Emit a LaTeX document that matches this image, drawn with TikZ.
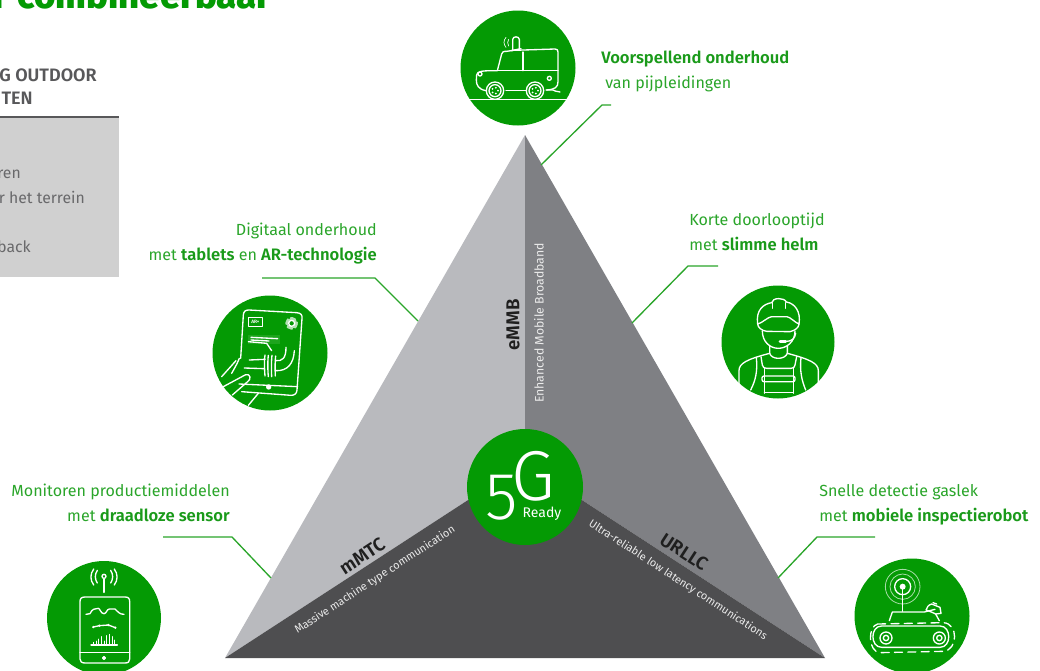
\documentclass[tikz,border=0pt]{standalone}
\usepackage{fontspec}
\setmainfont{Fira Sans}[BoldFont={Fira Sans SemiBold}]
\newfontfamily\fivefont{Fira Sans Light}
\newfontfamily\titlefont{Fira Sans ExtraBold}
\definecolor{grn}{HTML}{049A04}
\definecolor{txtgrn}{HTML}{2AA52A}
\definecolor{boldgrn}{HTML}{1A9A1A}
\definecolor{tl}{HTML}{B9BABE}
\definecolor{tr}{HTML}{7F8084}
\definecolor{tb}{HTML}{4E4E50}
\definecolor{boxg}{HTML}{D0D0D0}
\definecolor{hd}{HTML}{58585A}
\tikzset{
 x=0.75pt,y=-0.75pt,
 lbl/.style={text=txtgrn,font=\fontsize{12.05pt}{18.5pt}\selectfont,inner sep=0pt,align=left},
 lblr/.style={lbl,align=right},
 leader/.style={draw=txtgrn,line width=1pt},
 disc/.style={circle,fill=grn,minimum size=#1*0.75pt,inner sep=0pt},
 ic/.style={draw=white,line width=1pt,line cap=round,line join=round},
 ict/.style={draw=white,line width=0.6pt,opacity=.65},
 tri/.style={font=\fontsize{8.2pt}{10pt}\selectfont,text=white!92!black,inner sep=0pt},
 trb/.style={font=\fontsize{14pt}{16pt}\bfseries\selectfont,text=black!88,inner sep=0pt},
 hdt/.style={anchor=base east,inner sep=0pt,text=hd,font=\fontsize{13.5pt}{15pt}\bfseries\selectfont},
 bdt/.style={anchor=base east,inner sep=0pt,text=hd!90,font=\fontsize{11.8pt}{14pt}\selectfont},
}
\newcommand{\bg}[1]{{\fontsize{12.45pt}{18.5pt}\selectfont\textcolor{boldgrn}{\textbf{#1}}}}
\begin{document}
\begin{tikzpicture}
\useasboundingbox (0,0) rectangle (1040,671);
\clip (0,0) rectangle (1040,671);
% title
\node[anchor=base east,inner sep=0pt,text=grn,font=\fontsize{27.5pt}{30pt}\titlefont] (title) at (272,8) {r combineerbaar};
% grey box
\fill[boxg] (-2,118) rectangle (119,277);
\draw[hd,line width=1.2pt] (-2,117) -- (119,117);
\node[hdt] (h1) at (97,81) {G OUTDOOR};
\node[hdt] (h2) at (33,104) {TEN};
\node[bdt] (b1) at (21,178) {ren};
\node[bdt] (b2) at (85,203) {r het terrein};
\node[bdt] (b3) at (31,252) {back};
% triangle
\coordinate (A) at (525,135);
\coordinate (L) at (225,658);
\coordinate (R) at (825,658);
\coordinate (C) at (525,463);
\fill[tl] (A) -- (L) -- (C) -- cycle;
\fill[tr] (A) -- (R) -- (C) -- cycle;
\fill[tb] (L) -- (C) -- (R) -- cycle;
% triangle labels
\node[trb,rotate=90] (embb) at (513,325) {eMMB};
\node[tri,rotate=90,font=\fontsize{9.2pt}{10pt}\selectfont] (embbt) at (539,323) {Enhanced Mobile Broadband};
\node[trb,rotate=33] (mmtc) at (362,556) {mMTC};
\node[tri,rotate=33] (mmtct) at (375,580) {Massive machine type communication};
\node[trb,rotate=-33] (urllc) at (684,552) {URLLC};
\node[tri,rotate=-33] (urllct) at (678,580) {Ultra-reliable low latency communications};
% centre
\node[disc=116] (five) at (525,487) {};
\node[text=white,inner sep=0pt,font=\fontsize{50pt}{50pt}\fivefont] (n5) at (502,498) {5};
\node[text=white,inner sep=0pt,font=\fontsize{53pt}{53pt}\fivefont] (nG) at (533,476) {G};
\node[text=white,inner sep=0pt,font=\fontsize{10.5pt}{12pt}\selectfont] (rdy) at (542,514) {Ready};
% discs
\node[disc=115] (d1) at (518,68) {};
\node[disc=115] (d2) at (270,353) {};
\node[disc=113] (d3) at (778,342) {};
\node[disc=114] (d4) at (104,618) {};
\node[disc=115] (d5) at (912,616) {};
% labels
\node[lbl,anchor=base west] (t1a) at (601,63) {\bg{Voorspellend onderhoud}};
\node[lbl,anchor=base west] (t1b) at (605,88) {van pijpleidingen};
\node[lblr,anchor=base east] (t2a) at (377,235) {Digitaal onderhoud};
\node[lblr,anchor=base east] (t2b) at (377,260) {met \bg{tablets} en \bg{AR-technologie}};
\node[lbl,anchor=base west] (t3a) at (689,225) {Korte doorlooptijd};
\node[lbl,anchor=base west] (t3b) at (689,250) {met \bg{slimme helm}};
\node[lblr,anchor=base east] (t4a) at (230,496) {Monitoren productiemiddelen};
\node[lblr,anchor=base east] (t4b) at (230,521) {met \bg{draadloze sensor}};
\node[lbl,anchor=base west] (t5a) at (819,496) {Snelle detectie gaslek};
\node[lbl,anchor=base west] (t5b) at (819,521) {met \bg{mobiele inspectierobot}};
% leaders
\coordinate (l1a) at (611,105); \coordinate (l1b) at (602,105); \coordinate (l1c) at (541,165);
\coordinate (l2a) at (262,278); \coordinate (l2b) at (375,278); \coordinate (l2c) at (418,321);
\coordinate (l3a) at (718,266); \coordinate (l3b) at (688,266); \coordinate (l3c) at (632,323);
\coordinate (l4a) at (163,537); \coordinate (l4b) at (232,537); \coordinate (l4c) at (271,578);
\coordinate (l5a) at (875,537); \coordinate (l5b) at (817,537); \coordinate (l5c) at (778,578);
\draw[leader] (l1a) -- (l1b) -- (l1c);
\draw[leader] (l2a) -- (l2b) -- (l2c);
\draw[leader] (l3a) -- (l3b) -- (l3c);
\draw[leader] (l4a) -- (l4b) -- (l4c);
\draw[leader] (l5a) -- (l5b) -- (l5c);
% icon 1: vehicle
\begin{scope}[shift={(450,0)},x=0.25pt,y=-0.25pt,ic]
\draw (55,299) -- (355,299);
\draw (108,272) .. controls (85,268) and (79,255) .. (79,240) -- (80,225) .. controls (82,213) and (95,212) .. (142,212) -- (155,162) .. controls (157,155) and (160,154) .. (170,154) -- (190,151) -- (315,147) .. controls (322,147) and (324,150) .. (324,156) -- (324,245) .. controls (324,262) and (315,268) .. (290,270);
\draw (168,272) -- (228,272);
\draw (142,212) -- (324,212);
\draw (219,156) -- (219,212);
\draw (188,152) -- (188,118) .. controls (190,108) and (206,108) .. (208,118) -- (208,148);
\draw (183,152) -- (213,146);
\draw (135,272) circle (26); \draw (135,272) circle (18);
\draw (255,272) circle (26); \draw (255,272) circle (18);
\foreach \a in {0,72,...,288}{
 \fill[white,draw=none] (135,272)++(\a:9) circle (3);
 \fill[white,draw=none] (255,272)++(\a:9) circle (3);
}
\draw (298,235) circle (6);
\draw (90,222) circle (6);
\draw (288,270) .. controls (300,270) and (310,268) .. (315,273) -- (330,276);
\draw[line width=.5pt] (176,118) .. controls (172,125) and (172,130) .. (176,138);
\draw[line width=.5pt] (168,112) .. controls (160,122) and (160,132) .. (168,142);
\end{scope}
% icon 2: tablet
\begin{scope}[shift={(205,290)},x=0.25pt,y=-0.25pt,ic]
\draw (107,205) -- (115,75) .. controls (116,63) and (122,60) .. (132,60) -- (275,68) .. controls (288,69) and (292,75) .. (291,85) -- (276,300) .. controls (275,312) and (268,316) .. (258,316) -- (110,305);
\draw (102,282) -- (278,290);
\draw (130,82) rectangle (172,110);
\node[draw=none,text=white,inner sep=0pt,font=\fontsize{3.6pt}{4pt}\bfseries\selectfont] (icar) at (151,96) {AR+};
\draw (260,100) circle (9);
\draw[line width=2.6pt,dash pattern=on 3pt off 2.2pt,opacity=.7] (260,100) circle (14);
\fill[white,opacity=.1,draw=none] (130,134) rectangle (225,162);
\draw (138,142) -- (218,146);
\draw (138,150) -- (192,153);
\draw (130,155) -- (185,160) -- (200,182);
\draw (133,210) -- (180,208);
\draw (118,234) -- (178,236);
\draw (180,195) .. controls (178,205) and (178,235) .. (180,258);
\draw (190,196) .. controls (188,210) and (188,240) .. (190,260);
\draw (201,196) .. controls (199,210) and (199,240) .. (200,260);
\draw (212,198) .. controls (210,210) and (210,240) .. (211,258);
\draw (212,212) .. controls (232,214) and (243,205) .. (243,172);
\draw (212,242) .. controls (248,244) and (266,220) .. (268,182);
\fill[white,draw=none] (191,291) circle (8);
\draw (50,260) -- (93,212);
\draw (103,205) .. controls (95,225) and (88,235) .. (80,250);
\draw (55,290) -- (122,254) .. controls (136,250) and (140,268) .. (128,275) -- (82,315);
\draw (130,346) -- (160,310);
\end{scope}
% icon 3: worker
\begin{scope}[shift={(715,280)},x=0.25pt,y=-0.25pt,ic]
\draw (128,132) .. controls (122,90) and (145,72) .. (170,68) .. controls (172,52) and (208,52) .. (214,66) .. controls (240,70) and (258,95) .. (252,132);
\draw (128,132) .. controls (140,130) and (160,110) .. (170,110) -- (215,110) .. controls (225,110) and (240,128) .. (252,132);
\draw (128,132) .. controls (128,142) and (140,152) .. (155,154) -- (225,155) .. controls (240,152) and (252,142) .. (252,132);
\draw (172,68) -- (172,85) (212,68) -- (212,85);
\draw (142,153) .. controls (142,185) and (165,205) .. (190,205) .. controls (215,205) and (240,185) .. (240,153);
\draw (195,184) -- (215,184) .. controls (230,184) and (240,175) .. (242,160);
\draw[line width=2pt] (195,184) -- (212,184);
\draw (164,198) -- (164,220) .. controls (170,240) and (210,240) .. (217,220) -- (217,198);
\draw (72,315) -- (72,272) .. controls (72,250) and (95,238) .. (164,220);
\draw (310,315) -- (310,272) .. controls (310,250) and (285,238) .. (217,220);
\draw (124,232) .. controls (128,275) and (122,300) .. (107,330);
\draw (258,232) .. controls (254,275) and (260,300) .. (272,330);
\draw (138,230) -- (142,255) .. controls (143,262) and (148,265) .. (155,265) -- (228,265) .. controls (235,265) and (239,262) .. (240,255) -- (245,230);
\draw (148,265) -- (148,340) (235,265) -- (235,340);
\draw[rounded corners=1.5pt] (141,288) rectangle (240,305);
\draw (148,338) -- (235,338);
\end{scope}
% icon 4: sensor
\begin{scope}[shift={(40,555)},x=0.25pt,y=-0.25pt,ic]
\draw (192,112) -- (192,72);
\draw (192,64) circle (6);
\draw (172,46) .. controls (164,58) and (164,72) .. (172,84);
\draw (212,46) .. controls (220,58) and (220,72) .. (212,84);
\draw (161,42) .. controls (150,58) and (150,74) .. (161,90);
\draw (223,42) .. controls (234,58) and (234,74) .. (223,90);
\draw (120,140) .. controls (120,130) and (125,126) .. (135,126) -- (255,126) .. controls (265,126) and (269,130) .. (269,140) -- (269,312) .. controls (269,320) and (265,324) .. (255,324) -- (135,324) .. controls (125,324) and (120,320) .. (120,312) -- cycle;
\draw (120,293) -- (269,293);
\draw (192,309) circle (4);
\draw (138,178) -- (150,176) .. controls (156,162) and (165,160) .. (175,160) .. controls (180,160) and (182,176) .. (192,176) .. controls (200,176) and (200,162) .. (208,162) -- (225,162) .. controls (235,172) and (240,178) .. (252,178);
\draw (160,216) -- (178,212) -- (205,210) -- (226,218);
\foreach \x/\y in {160/216,178/212,205/210,226/218}{\fill[white,draw=none] (\x,\y) circle (4);}
\draw (153,270) -- (232,270);
\foreach \x/\y in {160/262,168/258,176/252,184/245,192/258,200/242,208/238,216/245,224/255}{\draw[line width=.7pt] (\x,270) -- (\x,\y);}
\end{scope}
% icon 5: robot
\begin{scope}[shift={(845,550)},x=0.25pt,y=-0.25pt,ic]
\draw[ict] (173,110) circle (52);
\draw[ict] (173,110) circle (38);
\draw (173,110) circle (24);
\fill[white,draw=none] (173,110) circle (9);
\draw (173,118) -- (173,184);
\draw (133,212) -- (142,186) -- (238,186) -- (270,178) (272,192) -- (283,212);
\draw (243,180) .. controls (245,172) and (250,165) .. (260,162) -- (285,172) -- (288,190) -- (272,192) .. controls (258,185) and (248,182) .. (243,180);
\draw (264,158) -- (275,162);
\draw (110,228) -- (285,228) .. controls (320,228) and (320,292) .. (285,292) -- (110,292) .. controls (75,292) and (75,228) .. (110,228);
\draw[dash pattern=on 6pt off 4pt] (98,222) -- (295,218) .. controls (340,220) and (340,300) .. (295,304) -- (105,308) .. controls (68,305) and (68,228) .. (98,222);
\draw (123,264) circle (18); \draw (123,264) circle (8);
\draw (283,264) circle (18); \draw (283,264) circle (8);
\end{scope}
\end{tikzpicture}
\end{document}
